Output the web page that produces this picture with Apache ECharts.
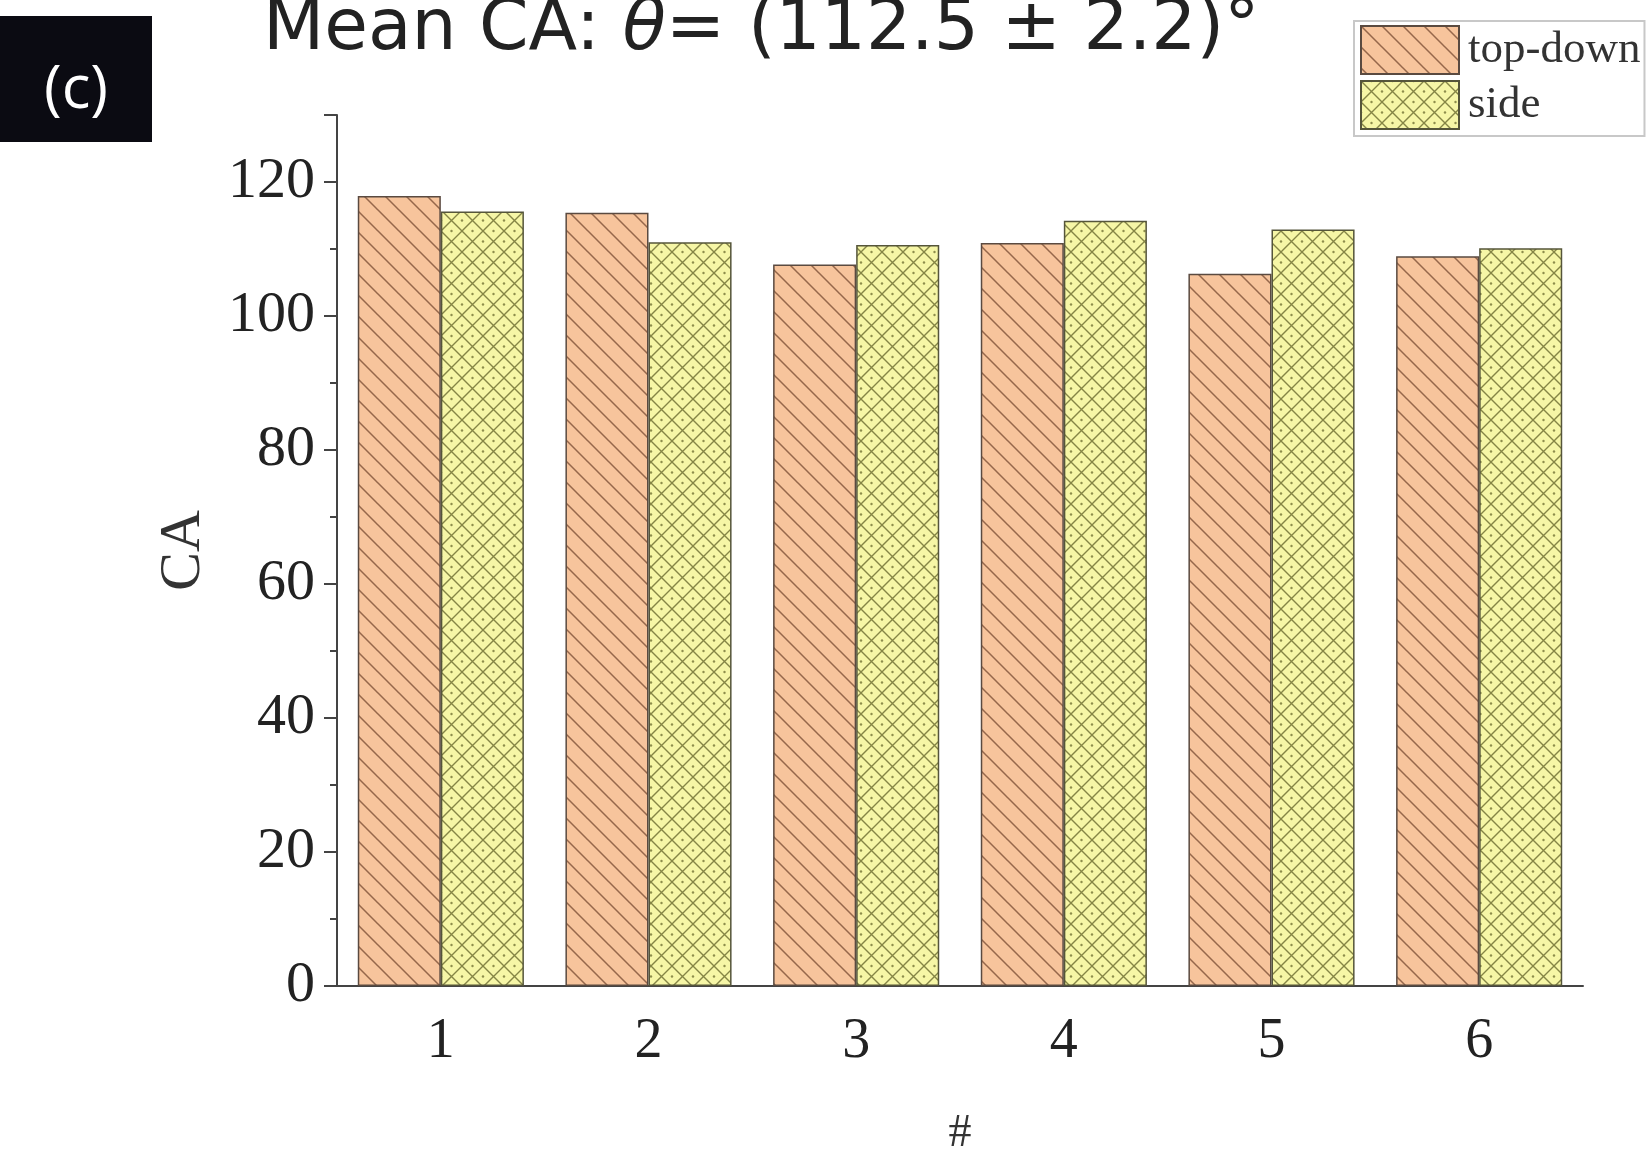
<!DOCTYPE html>
<html><head><meta charset="utf-8">
<script src="https://cdn.jsdelivr.net/npm/echarts@6/dist/echarts.min.js"></script>
<style>html,body{margin:0;padding:0;background:#fff}#c{width:1649px;height:1150px}</style>
</head><body><div id="c"></div>
<script>
const categories = ['1', '2', '3', '4', '5', '6'];
const topDown = [117.9, 115.4, 107.7, 110.9, 106.3, 108.9];
const side = [115.6, 111.0, 110.6, 114.2, 112.9, 110.1];
const seriesNames = ['top-down', 'side'];
const titleParts = ['Mean CA: ', '\u03B8', '= (112.5 \u00B1 2.2)\u00B0'];
const panelText = '(c)';

function stripePattern() {
  const s = 21;
  const c = document.createElement('canvas');
  c.width = s; c.height = s;
  const g = c.getContext('2d');
  g.fillStyle = '#F7C49C';
  g.fillRect(0, 0, s, s);
  g.strokeStyle = 'rgba(125,80,55,0.8)';
  g.lineWidth = 1.5;
  g.beginPath();
  g.moveTo(-2, -2); g.lineTo(s + 2, s + 2);
  g.moveTo(-2, s - 2); g.lineTo(2, s + 2);
  g.moveTo(s - 2, -2); g.lineTo(s + 2, 2);
  g.stroke();
  return c;
}
function crossPattern() {
  const s = 21;
  const c = document.createElement('canvas');
  c.width = s; c.height = s;
  const g = c.getContext('2d');
  g.fillStyle = '#F6F6A6';
  g.fillRect(0, 0, s, s);
  g.strokeStyle = 'rgba(105,105,45,0.8)';
  g.lineWidth = 1.4;
  g.beginPath();
  g.moveTo(-2, -2); g.lineTo(s + 2, s + 2);
  g.moveTo(-2, s + 2); g.lineTo(s + 2, -2);
  g.stroke();
  g.fillStyle = 'rgba(105,105,45,0.75)';
  [[s / 2, 0], [0, s / 2], [s, s / 2], [s / 2, s]].forEach(p => {
    g.beginPath(); g.arc(p[0], p[1], 1.2, 0, Math.PI * 2); g.fill();
  });
  return c;
}

const chart = echarts.init(document.getElementById('c'), null, {renderer: 'canvas'});
const serif = '"Liberation Serif", "Times New Roman", serif';
const axisColor = '#444';

chart.setOption({
  animation: false,
  backgroundColor: '#fff',
  grid: {left: 337, right: 66, top: 115, bottom: 164, containLabel: false, outerBoundsMode: 'none'},
  legend: {
    orient: 'vertical',
    left: 1354, top: 21,
    itemWidth: 98, itemHeight: 48, itemGap: 5,
    padding: [4, 4, 6, 6],
    borderColor: '#c8c8c8', borderWidth: 2,
    icon: 'rect',
    textStyle: {fontFamily: serif, fontSize: 45, color: '#333', padding: [0, 0, 0, 4]},
    data: seriesNames
  },
  graphic: [
    {type: 'rect', shape: {x: 0, y: 16, width: 152, height: 126}, style: {fill: '#0b0b12'}},
    {type: 'text', x: 76, y: 91, style: {text: panelText, fill: '#fff', font: '60px "Open Sans"', align: 'center', verticalAlign: 'middle'}},
    {type: 'text', x: 263, y: 31, style: {
      text: '{a|' + titleParts[0] + '}{b|' + titleParts[1] + '}{a|' + titleParts[2] + '}',
      align: 'left', verticalAlign: 'middle',
      rich: {
        a: {fontFamily: '"DejaVu Sans"', fontSize: 71, fill: '#222', color: '#222'},
        b: {fontFamily: '"DejaVu Sans"', fontSize: 71, fontStyle: 'italic', fill: '#222', color: '#222'}
      }
    }}
  ],
  xAxis: [{
    type: 'category', position: 'bottom', data: categories,
    name: '#', nameLocation: 'middle', nameGap: 125,
    nameTextStyle: {fontFamily: serif, fontSize: 46, color: '#333'},
    axisLine: {lineStyle: {color: axisColor, width: 2}},
    axisTick: {alignWithLabel: true, length: 14, lineStyle: {color: axisColor, width: 2}},
    axisLabel: {fontFamily: serif, fontSize: 56, color: '#222', margin: 28}
  }, {
    type: 'category', position: 'bottom', data: categories,
    axisLine: {show: false},
    axisTick: {alignWithLabel: false, length: 7, lineStyle: {color: axisColor, width: 2}},
    axisLabel: {show: false}
  }],
  yAxis: {
    type: 'value', min: 0, max: 130, interval: 20,
    name: 'CA', nameLocation: 'middle', nameGap: 124, nameRotate: 90,
    nameTextStyle: {fontFamily: serif, fontSize: 58, color: '#333'},
    axisLine: {show: true, lineStyle: {color: axisColor, width: 2}},
    axisTick: {show: true, length: 13, lineStyle: {color: axisColor, width: 2}},
    minorTick: {show: true, splitNumber: 2, length: 7, lineStyle: {color: axisColor, width: 2}},
    splitLine: {show: false},
    axisLabel: {fontFamily: serif, fontSize: 58, color: '#222', margin: 22, showMaxLabel: false}
  },
  series: [{
    name: seriesNames[0], type: 'bar', data: topDown, xAxisIndex: 0,
    barGap: '0%', barCategoryGap: '20%',
    itemStyle: {color: {image: stripePattern(), repeat: 'repeat'}, borderColor: '#5a4a40', borderWidth: 1.5}
  }, {
    name: seriesNames[1], type: 'bar', data: side, xAxisIndex: 0,
    barGap: '0%', barCategoryGap: '20%',
    itemStyle: {color: {image: crossPattern(), repeat: 'repeat'}, borderColor: '#55553a', borderWidth: 1.5}
  }]
});
</script>
</body></html>
